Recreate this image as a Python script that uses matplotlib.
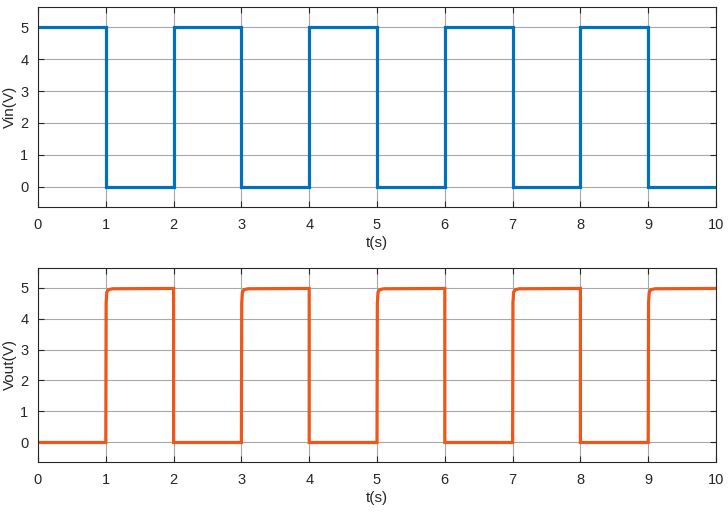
import matplotlib
matplotlib.use("Agg")
import matplotlib.pyplot as plt

# Input square wave (time in s, voltage in V)
t_in = [0, 1, 1, 2, 2, 3, 3, 4, 4, 5, 5, 6, 6, 7, 7, 8, 8, 9, 9, 10]
v_in = [5, 5, 0, 0, 5, 5, 0, 0, 5, 5, 0, 0, 5, 5, 0, 0, 5, 5, 0, 0]

# Output response (time in s, voltage in V)
t_out = [0, 1, 1.005, 1.015, 1.04, 1.1, 2, 2, 3,
         3, 3.005, 3.015, 3.04, 3.1, 4, 4, 5,
         5, 5.005, 5.015, 5.04, 5.1, 6, 6, 7,
         7, 7.005, 7.015, 7.04, 7.1, 8, 8, 9,
         9, 9.005, 9.015, 9.04, 9.1, 10]
v_out = [0, 0, 4.5, 4.85, 4.93, 4.96, 4.97, 0, 0,
         0, 4.5, 4.85, 4.93, 4.96, 4.97, 0, 0,
         0, 4.5, 4.85, 4.93, 4.96, 4.97, 0, 0,
         0, 4.5, 4.85, 4.93, 4.96, 4.97, 0, 0,
         0, 4.5, 4.85, 4.93, 4.96, 4.97]

x_ticks = list(range(0, 11))
y_ticks = list(range(0, 6))

plt.rcParams['font.family'] = ['Liberation Sans', 'DejaVu Sans']

fig = plt.figure(figsize=(7.28, 5.14), dpi=100)
W, H = 728, 514
ax1 = fig.add_axes([38 / W, 1 - 207 / H, (716 - 38) / W, 200 / H])
ax2 = fig.add_axes([38 / W, 1 - 462 / H, (716 - 38) / W, 194 / H])

for ax, t, v, c, lab in [(ax1, t_in, v_in, '#0072BD', 'Vin(V)'),
                          (ax2, t_out, v_out, '#EE561A', 'Vout(V)')]:
    ax.plot(t, v, color=c, lw=2.3, solid_joinstyle='miter', clip_on=True)
    ax.set_xlim(0, 10)
    ax.set_ylim(-0.63, 5.63)
    ax.set_xticks(x_ticks)
    ax.set_yticks(y_ticks)
    ax.grid(True, color='#A8A8A8', lw=0.8)
    ax.set_axisbelow(True)
    ax.tick_params(direction='in', top=True, right=True, length=4,
                   width=0.8, color='#262626', labelsize=10.5,
                   labelcolor='#262626')
    ax.tick_params(axis='x', pad=8)
    ax.tick_params(axis='y', pad=7)
    for s in ax.spines.values():
        s.set_color('#262626')
        s.set_linewidth(0.8)
    ax.set_xlabel('t(s)', fontsize=11, color='#262626', labelpad=3)
    ax.set_ylabel(lab, fontsize=11, color='#262626', labelpad=2)

fig.savefig('out.png', dpi=100)
